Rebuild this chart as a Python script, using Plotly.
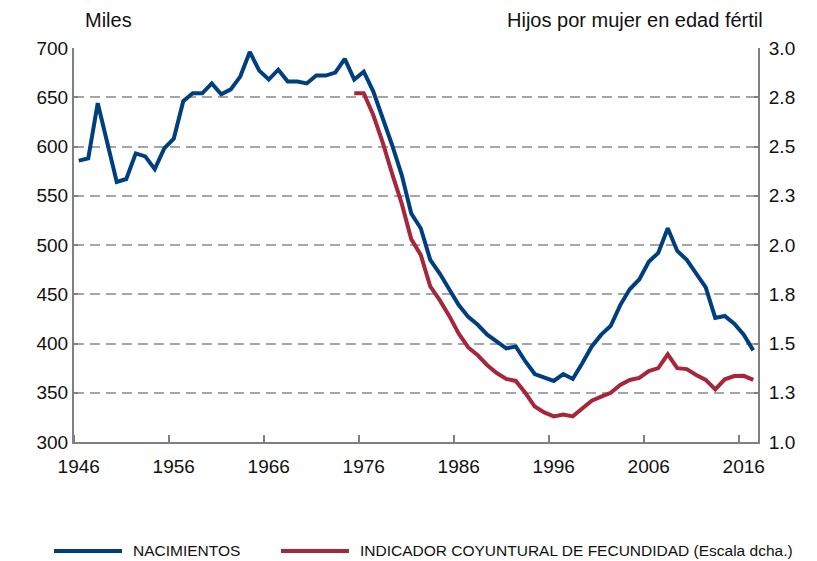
import plotly.graph_objects as go

# ---- data ----
years = list(range(1946, 2018))
nacimientos = [
    585.6, 588, 644, 605, 564, 567, 593, 590, 577, 598,
    608, 646, 654, 654, 664, 653, 658, 671, 696, 677,
    668, 678, 666, 666, 664, 672, 672, 675, 689, 668,
    676, 656, 629, 601, 571, 532, 517, 485, 471, 454,
    439, 427, 419, 409, 402, 395, 397, 382, 369, 365,
    362, 369, 364, 380, 397, 409, 418, 439, 455, 465,
    483, 492, 517, 494, 485, 471, 457, 426, 428, 420,
    409, 393,
]
years_icf = list(range(1975, 2018))
icf = [
    2.77, 2.77, 2.66, 2.52, 2.36, 2.21, 2.03, 1.95, 1.79, 1.72,
    1.64, 1.55, 1.48, 1.44, 1.39, 1.35, 1.32, 1.31, 1.25, 1.18,
    1.15, 1.13, 1.14, 1.13, 1.17, 1.21, 1.23, 1.25, 1.29, 1.315,
    1.325, 1.36, 1.375, 1.445, 1.375, 1.37, 1.34, 1.315, 1.267, 1.318,
    1.335, 1.336, 1.315,
]
x_tickvals = [1946, 1956, 1966, 1976, 1986, 1996, 2006, 2016]
x_ticktext = ["1946", "1956", "1966", "1976", "1986", "1996", "2006", "2016"]
y_tickvals = [300, 350, 400, 450, 500, 550, 600, 650, 700]
y2_tickvals = [1.0, 1.25, 1.5, 1.75, 2.0, 2.25, 2.5, 2.75, 3.0]
y2_ticktext = ["1.0", "1.3", "1.5", "1.8", "2.0", "2.3", "2.5", "2.8", "3.0"]
name_nac = "NACIMIENTOS"
name_icf = "INDICADOR COYUNTURAL DE FECUNDIDAD (Escala dcha.)"
title_left = "Miles"
title_right = "Hijos por mujer en edad fértil"

BLUE = "#003f7f"
RED = "#a8263a"
AXIS = "#808080"
GRID = "#a6a6a6"
FONT = "Liberation Sans, Arial, sans-serif"

fig = go.Figure()
fig.add_trace(go.Scatter(x=years, y=nacimientos, mode="lines", name=name_nac,
                         line=dict(color=BLUE, width=4), showlegend=False))
fig.add_trace(go.Scatter(x=years_icf, y=icf, mode="lines", name=name_icf, yaxis="y2",
                         line=dict(color=RED, width=4), showlegend=False))

fig.update_layout(
    width=817, height=561,
    margin=dict(l=74, r=59, t=48, b=119),
    paper_bgcolor="white", plot_bgcolor="white",
    font=dict(family=FONT, size=19, color="#111111"),
    xaxis=dict(
        range=[1945.5, 2017.5], tickmode="array", tickvals=x_tickvals, ticktext=x_ticktext,
        ticks="", showgrid=False, zeroline=False,
        showline=True, linecolor=AXIS, linewidth=2,
        ticklabelstandoff=6,
        minor=dict(tick0=1945.5, dtick=10, ticks="inside", ticklen=7,
                   tickwidth=2, tickcolor=AXIS, showgrid=False),
    ),
    yaxis=dict(
        range=[300, 700], tickmode="array", tickvals=y_tickvals,
        ticks="inside", ticklen=4, tickwidth=2, tickcolor=AXIS,
        showgrid=True, gridcolor=GRID, gridwidth=2, griddash="10px,6px",
        zeroline=False, showline=True, linecolor=AXIS, linewidth=2,
        ticklabelstandoff=0,
    ),
    yaxis2=dict(
        range=[1.0, 3.0], overlaying="y", side="right", tickmode="array",
        tickvals=y2_tickvals, ticktext=y2_ticktext,
        ticks="inside", ticklen=4, tickwidth=2, tickcolor=AXIS,
        showgrid=False, zeroline=False, showline=True, linecolor=AXIS, linewidth=2,
        ticklabelstandoff=5,
    ),
)

# axis titles
fig.add_annotation(text=title_left, xref="paper", yref="paper", x=0.013, y=1.071,
                   xanchor="left", yanchor="middle", showarrow=False, font=dict(size=20))
fig.add_annotation(text=title_right, xref="paper", yref="paper", x=1.0102, y=1.071,
                   xanchor="right", yanchor="middle", showarrow=False, font=dict(size=20))

# legend (bottom)
ly = -0.2766
for x0, x1, tx, col, txt in [(-0.0292, 0.0702, 0.0833, BLUE, name_nac),
                             (0.3026, 0.402, 0.4152, RED, name_icf)]:
    fig.add_shape(type="line", xref="paper", yref="paper", x0=x0, x1=x1, y0=ly, y1=ly,
                  line=dict(color=col, width=4))
    fig.add_annotation(text=txt, xref="paper", yref="paper", x=tx, y=ly,
                       xanchor="left", yanchor="middle", showarrow=False,
                       font=dict(size=15.5))

fig.write_html("out.html", config={"displayModeBar": False},
               post_script="document.body.style.margin='0px';document.body.style.overflow='hidden';")
